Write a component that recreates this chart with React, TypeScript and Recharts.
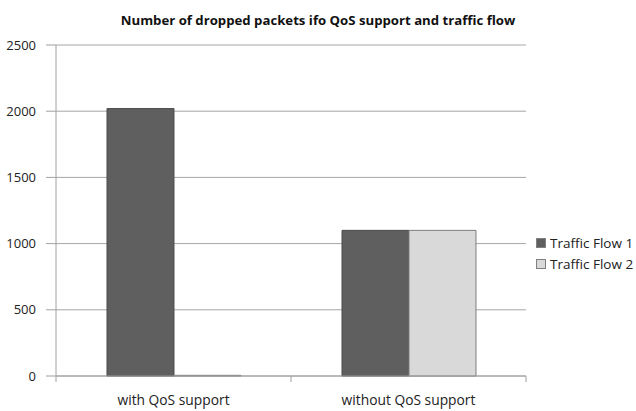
import { Bar, BarChart, CartesianGrid, XAxis, YAxis } from "recharts";

// values
const categories = ["with QoS support", "without QoS support"];
const flow1 = [2020, 1100];
const flow2 = [5, 1100];
const yTicks = [0, 500, 1000, 1500, 2000, 2500];
const seriesNames = ["Traffic Flow 1", "Traffic Flow 2"];

const data = categories.map((name, i) => ({ name, flow1: flow1[i], flow2: flow2[i] }));

const FONT = "'Open Sans', 'Liberation Sans', sans-serif";
const BAND = 235; // width of one category band in px

function XTick(props: any) {
  const { x, y, payload, index } = props;
  const left = x - BAND / 2;
  return (
    <g>
      <line x1={left} y1={y} x2={left} y2={y + 6} stroke="#a0a0a0" />
      {index === categories.length - 1 && (
        <line x1={x + BAND / 2} y1={y} x2={x + BAND / 2} y2={y + 6} stroke="#a0a0a0" />
      )}
      <text x={x} y={y + 29} textAnchor="middle" fontSize={13.8} fill="#222" fontFamily={FONT}>
        {payload.value}
      </text>
    </g>
  );
}

function LegendBox() {
  const fills = ["#5f5f5f", "#d9d9d9"];
  return (
    <div
      style={{
        position: "absolute",
        left: 536,
        top: 232,
        fontFamily: FONT,
        fontSize: 13.5,
        color: "#222",
      }}
    >
      {seriesNames.map((label, i) => (
        <div key={label} style={{ display: "flex", alignItems: "center", height: 21 }}>
          <span
            style={{
              display: "inline-block",
              width: 8,
              height: 8,
              background: fills[i],
              border: "1px solid #808080",
              marginRight: 4,
            }}
          />
          {label}
        </div>
      ))}
    </div>
  );
}

export default function App() {
  return (
    <div style={{ position: "absolute", left: 0, top: 0, width: 636, height: 411, background: "#fff" }}>
      <div
        style={{
          position: "absolute",
          left: 0,
          top: 11,
          width: 636,
          textAlign: "center",
          fontFamily: FONT,
          fontWeight: "bold",
          fontSize: 13.2,
          color: "#111",
        }}
      >
        Number of dropped packets ifo QoS support and traffic flow
      </div>
      <BarChart
        width={636}
        height={411}
        data={data}
        margin={{ top: 45, right: 110, bottom: 0, left: 0 }}
        barCategoryGap="21.7%"
        barGap={0}
      >
        <CartesianGrid vertical={false} stroke="#a6a6a6" />
        <XAxis
          dataKey="name"
          height={35}
          stroke="#a0a0a0"
          tickLine={false}
          tickSize={0}
          tickMargin={0}
          tick={<XTick />}
          interval={0}
        />
        <YAxis
          width={56}
          domain={[0, 2500]}
          ticks={yTicks}
          stroke="#a0a0a0"
          tickSize={10}
          tickMargin={10}
          tick={{ fill: "#222", fontSize: 13, fontFamily: FONT }}
          tickLine={{ stroke: "#a0a0a0" }}
        />
        <Bar dataKey="flow1" name={seriesNames[0]} fill="#5f5f5f" stroke="#4d4d4d" isAnimationActive={false} />
        <Bar dataKey="flow2" name={seriesNames[1]} fill="#d9d9d9" stroke="#7f7f7f" isAnimationActive={false} />
      </BarChart>
      <LegendBox />
    </div>
  );
}
